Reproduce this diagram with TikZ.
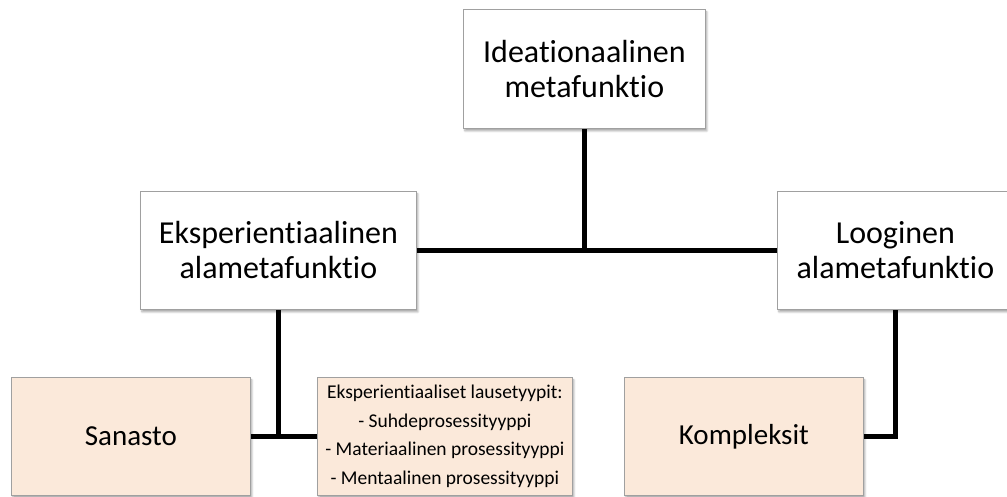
\documentclass[tikz,border=0pt]{standalone}
\usepackage{fontspec}
\setmainfont{Carlito}[Ligatures={NoCommon}]
\usetikzlibrary{shadows.blur}
\definecolor{boxborder}{RGB}{160,160,160}
\definecolor{peach}{RGB}{251,233,218}
\tikzset{
  box/.style={draw=boxborder, line width=0.8pt, fill=white, inner sep=0pt,
    align=center, anchor=north west,
    blur shadow={shadow xshift=1.5pt, shadow yshift=-2.5pt, shadow opacity=35, shadow blur steps=6}},
  bigtext/.style={font=\fontsize{32}{35}\selectfont},
  leaf/.style={box, fill=peach},
  conn/.style={line width=5pt, black},
}
\begin{document}
\begin{tikzpicture}[x=1pt,y=-1pt]
\useasboundingbox (0,0) rectangle (1007,497);
\node[box, bigtext, minimum width=242pt, minimum height=119pt] (top) at (463,9) {Ideationaalinen\\metafunktio};
\node[box, bigtext, minimum width=276pt, minimum height=118pt] (left) at (140,191) {Eksperientiaalinen\\alametafunktio};
\node[box, bigtext, minimum width=236pt, minimum height=118pt] (right) at (777,191) {Looginen\\alametafunktio};
\node[leaf, font=\fontsize{29}{34}\selectfont, minimum width=239pt, minimum height=118pt] (sanasto) at (11,377) {Sanasto};
\node[leaf, font=\fontsize{19.5}{28.5}\selectfont, minimum width=255pt, minimum height=118pt] (eksp) at (317,377) {Eksperientiaaliset lausetyypit:\\- Suhdeprosessityyppi\\- Materiaalinen prosessityyppi\\- Mentaalinen prosessityyppi};
\node[leaf, font=\fontsize{29}{34}\selectfont, minimum width=239pt, minimum height=118pt] (komp) at (624,377) {Kompleksit};
\draw[conn] (top.south) -- (top.south |- left.east);
\draw[conn] (left.east) -- (right.west);
\draw[conn] (left.south) -- (left.south |- sanasto.east);
\draw[conn] (sanasto.east) -- (eksp.west);
\draw[conn] (komp.east) -| (right.south);
\end{tikzpicture}
\end{document}
